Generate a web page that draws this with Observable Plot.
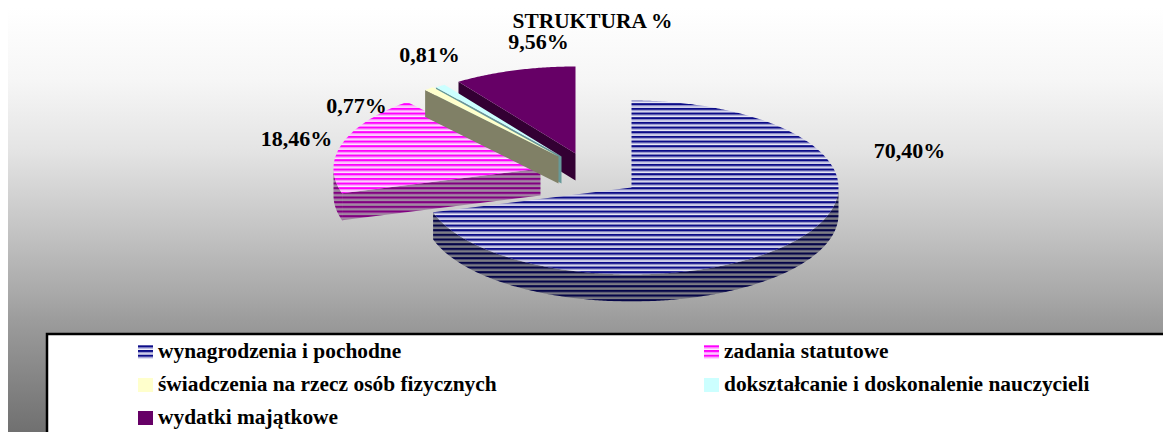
<!DOCTYPE html>
<html lang="pl">
<head>
<meta charset="utf-8">
<script src="https://cdn.jsdelivr.net/npm/d3@7"></script>
<script src="https://cdn.jsdelivr.net/npm/@observablehq/plot@0.6"></script>
<style>
html,body{margin:0;padding:0;background:#fff;overflow:hidden}
svg{display:block}
</style>
</head>
<body>
<div id="chart"></div>
<script>
// DATA
const categories = ["wynagrodzenia i pochodne","zadania statutowe","świadczenia na rzecz osób fizycznych","dokształcanie i doskonalenie nauczycieli","wydatki majątkowe"];
const shares = [70.40,18.46,0.77,0.81,9.56];
const chartTitle = "STRUKTURA %";

// STYLE AND LAYOUT
const topFills = ["url(#blueTop)","url(#pinkTop)","#ffffcc","#ccffff","#660066"];
const wallFills = ["url(#blueWall)","url(#pinkWall)","#808066","#669999","#330033"];
const swatchFills = ["url(#blueTop)","url(#pinkTop)","#ffffcc","#ccffff","#660066"];
const pieCenter = [631,187], radiusX = 207, radiusY = 87, depth = 27;
const explodeX = [0,-91,-73,-70,-56], explodeY = [0,-19,-31,-31,-34];
const labelX = [909,296,356,429,538], labelY = [150,138,105,54,41];
const legendX = [138,704,138,704,138], legendY = [345,345,378,378,411];
const drawOrder = [1,4,3,2,0];

const arcs = d3.pie().sort(null).startAngle(0).endAngle(2*Math.PI)(shares);
const pt = (i,a,dz=0)=>({x:pieCenter[0]+explodeX[i]+radiusX*Math.sin(a), y:pieCenter[1]+explodeY[i]-radiusY*Math.cos(a)+dz});
const apex = (i,dz=0)=>({x:pieCenter[0]+explodeX[i], y:pieCenter[1]+explodeY[i]+dz});
const arcPts = (i,a0,a1,dz=0)=>{const n=Math.max(2,Math.ceil(Math.abs(a1-a0)/0.01));return d3.range(n+1).map(k=>pt(i,a0+(a1-a0)*k/n,dz));};

function topFace(i){const {startAngle:s,endAngle:e}=arcs[i];return [apex(i),...arcPts(i,s,e)];}
function walls(i){
  const {startAngle:s,endAngle:e}=arcs[i];
  const out=[];
  const a0=Math.max(s,Math.PI/2), a1=Math.min(e,3*Math.PI/2);
  if(a1>a0) out.push([...arcPts(i,a0,a1),...arcPts(i,a1,a0,depth)]);
  if(i>0 && s>Math.PI) out.push([apex(i),pt(i,s),pt(i,s,depth),apex(i,depth)]);
  return out;
}
const area=(pts,fill)=>Plot.line(pts,{x:"x",y:"y",fill,stroke:"none",curve:"linear"});
const sliceMarks=drawOrder.flatMap(i=>[...walls(i).map(w=>area(w,wallFills[i])),area(topFace(i),topFills[i])]);

const pct=d3.format(".2f");
const labels=shares.map((v,i)=>({t:pct(v).replace(".",",")+"%",x:labelX[i],y:labelY[i]}));
const legendRows=categories.map((c,i)=>({c,x:legendX[i],y:legendY[i],fill:swatchFills[i]}));
const serif="'Liberation Serif','Times New Roman',serif";

const plot=Plot.plot({
  width:1163,height:432,margin:0,
  x:{domain:[0,1163],range:[0,1163],axis:null},
  y:{domain:[0,432],range:[0,432],axis:null},
  style:{background:"#fff",fontFamily:serif},
  marks:[
    Plot.rect([{}],{x1:()=>8,x2:()=>1163,y1:()=>8,y2:()=>432,fill:"url(#bgGrad)"}),
    ...sliceMarks,
    Plot.text(labels,{x:"x",y:"y",text:"t",fontSize:22,fontWeight:"bold",fill:"#000",textAnchor:"middle"}),
    Plot.text([chartTitle],{x:()=>592,y:()=>21,text:d=>d,fontSize:21.4,fontWeight:"bold",fill:"#000",textAnchor:"middle"}),
    Plot.rect([{}],{x1:()=>47,x2:()=>1170,y1:()=>334,y2:()=>445,fill:"#fff",stroke:"#000",strokeWidth:2.5}),
    ...legendRows.map(r=>Plot.rect([r],{x1:d=>d.x,x2:d=>d.x+15,y1:d=>d.y,y2:d=>d.y+14,fill:r.fill})),
    Plot.text(legendRows,{x:d=>d.x+19.5,y:d=>d.y+6,text:"c",fontSize:21.4,fontWeight:"bold",fill:"#000",textAnchor:"start"})
  ]
});

const ns="http://www.w3.org/2000/svg";
const defs=document.createElementNS(ns,"defs");
function stripes(id,bands){
  const period=14/3;
  const p=document.createElementNS(ns,"pattern");
  p.setAttribute("id",id);p.setAttribute("patternUnits","userSpaceOnUse");
  p.setAttribute("width",10);p.setAttribute("height",period);
  let y=0;
  for(const [h,c] of bands){
    const r=document.createElementNS(ns,"rect");
    r.setAttribute("x",0);r.setAttribute("y",y);r.setAttribute("width",10);r.setAttribute("height",h);r.setAttribute("fill",c);
    p.appendChild(r);y+=h;
  }
  defs.appendChild(p);
}
stripes("blueTop",[[2.1,"#0c0c88"],[0.5,"#4a4ab0"],[1.2,"#c0c0e4"],[0.87,"#f4f4fa"]]);
stripes("pinkTop",[[2.1,"#ff00ff"],[0.5,"#ff55ff"],[1.2,"#ffb8ff"],[0.87,"#ffeeff"]]);
stripes("blueWall",[[2.3,"#050548"],[0.4,"#2a2a58"],[1.97,"#7c7c84"]]);
stripes("pinkWall",[[2.3,"#800080"],[0.4,"#903090"],[1.97,"#a088a0"]]);
const g=document.createElementNS(ns,"linearGradient");
g.setAttribute("id","bgGrad");g.setAttribute("gradientUnits","userSpaceOnUse");
g.setAttribute("x1",0);g.setAttribute("x2",0);g.setAttribute("y1",8);g.setAttribute("y2",432);
for(const [o,c] of [[0,"#ffffff"],[0.17,"#f6f6f6"],[0.335,"#e4e4e4"],[0.523,"#c4c4c4"],[0.689,"#a6a6a6"],[0.736,"#9c9c9c"],[1,"#707070"]]){
  const s=document.createElementNS(ns,"stop");s.setAttribute("offset",o);s.setAttribute("stop-color",c);g.appendChild(s);
}
defs.appendChild(g);
plot.insertBefore(defs,plot.firstChild);
document.getElementById("chart").appendChild(plot);
</script>
</body>
</html>
